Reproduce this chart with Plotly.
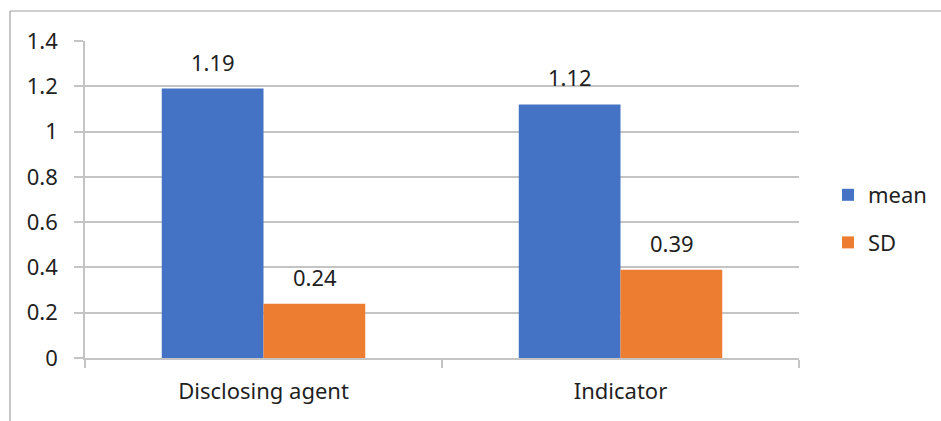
import plotly.graph_objects as go

categories = ["Disclosing agent", "Indicator"]
mean_values = [1.19, 1.12]
sd_values = [0.24, 0.39]
y_ticks = [0, 0.2, 0.4, 0.6, 0.8, 1, 1.2, 1.4]
y_tick_labels = ["0", "0.2", "0.4", "0.6", "0.8", "1", "1.2", "1.4"]

BLUE = "#4472C4"
ORANGE = "#ED7D31"
GRID = "#C4C4C4"
TEXT = "#1F1F1F"
FONT = "Noto Sans"
FS = 22

W, H = 941, 421
L, R, T, B = 85, 142, 41, 63

fig = go.Figure()
fig.add_trace(go.Bar(x=categories, y=mean_values, name="mean", marker_color=BLUE,
                     marker_line_width=0, legendgroup="mean"))
fig.add_trace(go.Bar(x=categories, y=sd_values, name="SD", marker_color=ORANGE,
                     marker_line_width=0, legendgroup="sd"))

# value labels above each bar
bar_offset = 51
for cat, v in zip(categories, mean_values):
    fig.add_annotation(x=cat, y=v, text=f"{v:.2f}", showarrow=False, xshift=-bar_offset,
                       yshift=27, font=dict(family=FONT, size=FS, color=TEXT))
for cat, v in zip(categories, sd_values):
    fig.add_annotation(x=cat, y=v, text=f"{v:.2f}", showarrow=False, xshift=bar_offset,
                       yshift=27, font=dict(family=FONT, size=FS, color=TEXT))

# outer chart frame
pw, ph = W - L - R, H - T - B
fx0 = (10 - L) / pw
fy1 = (H - B - 11) / ph
fig.add_shape(type="line", xref="paper", yref="paper", x0=fx0, x1=(W - L) / pw + 0.1,
              y0=fy1, y1=fy1, line=dict(color="#A0A0A0", width=1.2))
fig.add_shape(type="line", xref="paper", yref="paper", x0=fx0, x1=fx0,
              y0=fy1, y1=-(B + 10) / ph, line=dict(color="#A0A0A0", width=1.2))

fig.update_layout(
    width=W, height=H,
    margin=dict(l=L, r=R, t=T, b=B, autoexpand=False),
    paper_bgcolor="white", plot_bgcolor="white",
    barmode="group", bargap=0.43, bargroupgap=0,
    font=dict(family=FONT, size=FS, color=TEXT),
    showlegend=True,
    legend=dict(xref="container", yref="container", x=828 / W, y=1 - 174 / H,
                xanchor="left", yanchor="top",
                font=dict(family=FONT, size=FS, color=TEXT),
                itemwidth=30, tracegroupgap=16, bgcolor="rgba(0,0,0,0)"),
    xaxis=dict(showline=True, linecolor=GRID, linewidth=1.5, ticks="outside",
               tickson="boundaries", ticklen=8, tickcolor=GRID, tickwidth=1.5,
               showgrid=False, tickfont=dict(size=FS), ticklabelstandoff=13),
    yaxis=dict(range=[0, 1.4], tickvals=y_ticks, ticktext=y_tick_labels,
               showline=True, linecolor=GRID, linewidth=1.5, showgrid=True,
               gridcolor=GRID, gridwidth=1.5, ticks="outside", ticklen=9,
               tickcolor=GRID, tickwidth=1.5, zeroline=False,
               tickfont=dict(size=FS), ticklabelstandoff=12),
)

fig.write_html("out.html")
